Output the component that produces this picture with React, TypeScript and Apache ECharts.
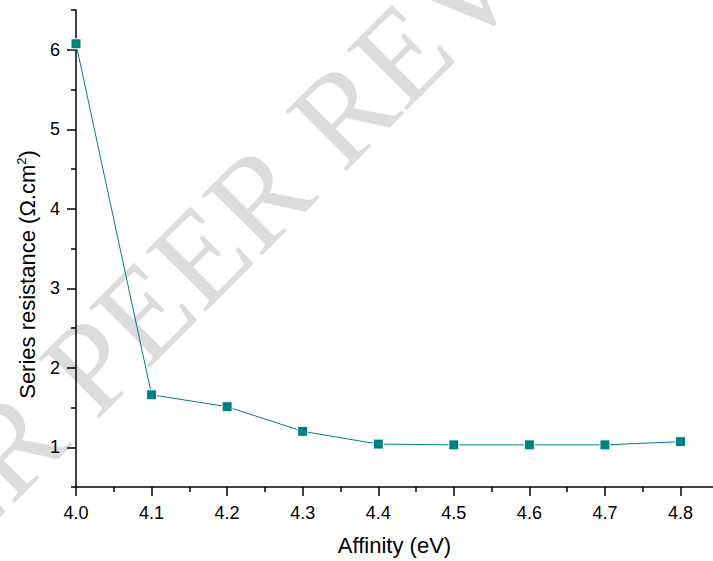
import React, { useEffect, useRef } from "react";
import * as echarts from "echarts";

const affinity = [4.0, 4.1, 4.2, 4.3, 4.4, 4.5, 4.6, 4.7, 4.8];
const resistance = [6.075, 1.66, 1.51, 1.2, 1.04, 1.03, 1.03, 1.03, 1.07];
const xMajorTicks = [4.0, 4.1, 4.2, 4.3, 4.4, 4.5, 4.6, 4.7, 4.8];
const xMinorTicks = [4.05, 4.15, 4.25, 4.35, 4.45, 4.55, 4.65, 4.75];
const yMajorTicks = [1, 2, 3, 4, 5, 6];
const yMinorTicks = [0.5, 1.5, 2.5, 3.5, 4.5, 5.5, 6.5];
const watermark = "UNDER PEER REVIEW";

const FONT = "Liberation Sans, Arial, sans-serif";

export default function App() {
  const ref = useRef<HTMLDivElement>(null);
  useEffect(() => {
    document.body.style.margin = "0";
    const chart = echarts.init(ref.current!, null, { renderer: "svg" });
    const axisLine = { show: true, lineStyle: { color: "#000", width: 1.5 } };
    chart.setOption({
      animation: false,
      backgroundColor: "#fff",
      textStyle: { fontFamily: FONT },
      grid: { left: 76, right: 0, top: 10, bottom: 73 },
      graphic: [
        {
          type: "text",
          x: 197,
          y: 258,
          rotation: Math.PI / 4,
          z: 0,
          zlevel: 0,
          silent: true,
          style: {
            text: watermark,
            fill: "#dcdcdc",
            font: "130px 'Liberation Serif', 'Times New Roman', serif",
            align: "center",
            verticalAlign: "middle",
          },
        },
      ],
      xAxis: [
        {
          type: "value",
          min: 4.0,
          max: 4.843,
          name: "Affinity (eV)",
          nameLocation: "middle",
          nameGap: 47,
          nameTextStyle: { fontSize: 22, color: "#000", fontFamily: FONT },
          axisLine: { ...axisLine, onZero: false },
          axisTick: { show: true, customValues: xMajorTicks, length: 9, lineStyle: { color: "#000", width: 1.5 } },
          axisLabel: {
            customValues: xMajorTicks,
            formatter: (v: number) => v.toFixed(1),
            fontSize: 18,
            color: "#000",
            margin: 17,
            fontFamily: FONT,
          },
          splitLine: { show: false },
        },
        {
          type: "value",
          min: 4.0,
          max: 4.843,
          position: "bottom",
          axisLine: { show: false, onZero: false },
          axisTick: { show: true, customValues: xMinorTicks, length: 5, lineStyle: { color: "#000", width: 1.5 } },
          axisLabel: { show: false },
          splitLine: { show: false },
        },
      ],
      yAxis: [
        {
          type: "value",
          min: 0.5,
          max: 6.5,
          name: "Series resistance (Ω.cm{sup|2})",
          nameLocation: "middle",
          nameGap: 37,
          nameTextStyle: {
            fontSize: 22,
            color: "#000",
            fontFamily: FONT,
            padding: [0, 52, 0, 0],
            rich: { sup: { fontSize: 13, padding: [0, 0, 11, 0], fontFamily: FONT, color: "#000" } },
          },
          axisLine: { ...axisLine, onZero: false },
          axisTick: { show: true, customValues: yMajorTicks, length: 9, lineStyle: { color: "#000", width: 1.5 } },
          axisLabel: { customValues: yMajorTicks, fontSize: 18, color: "#000", margin: 16, fontFamily: FONT },
          splitLine: { show: false },
        },
        {
          type: "value",
          min: 0.5,
          max: 6.5,
          position: "left",
          axisLine: { show: false, onZero: false },
          axisTick: { show: true, customValues: yMinorTicks, length: 5, lineStyle: { color: "#000", width: 1.5 } },
          axisLabel: { show: false },
          splitLine: { show: false },
        },
      ],
      series: [
        {
          type: "line",
          data: affinity.map((x, i) => [x, resistance[i]]),
          symbol: "rect",
          symbolSize: 10,
          lineStyle: { color: "#008080", width: 1 },
          itemStyle: { color: "#008080", borderColor: "#fff", borderWidth: 1 },
          z: 5,
        },
      ],
    });
    return () => chart.dispose();
  }, []);
  return <div ref={ref} style={{ width: 713, height: 561 }} />;
}
